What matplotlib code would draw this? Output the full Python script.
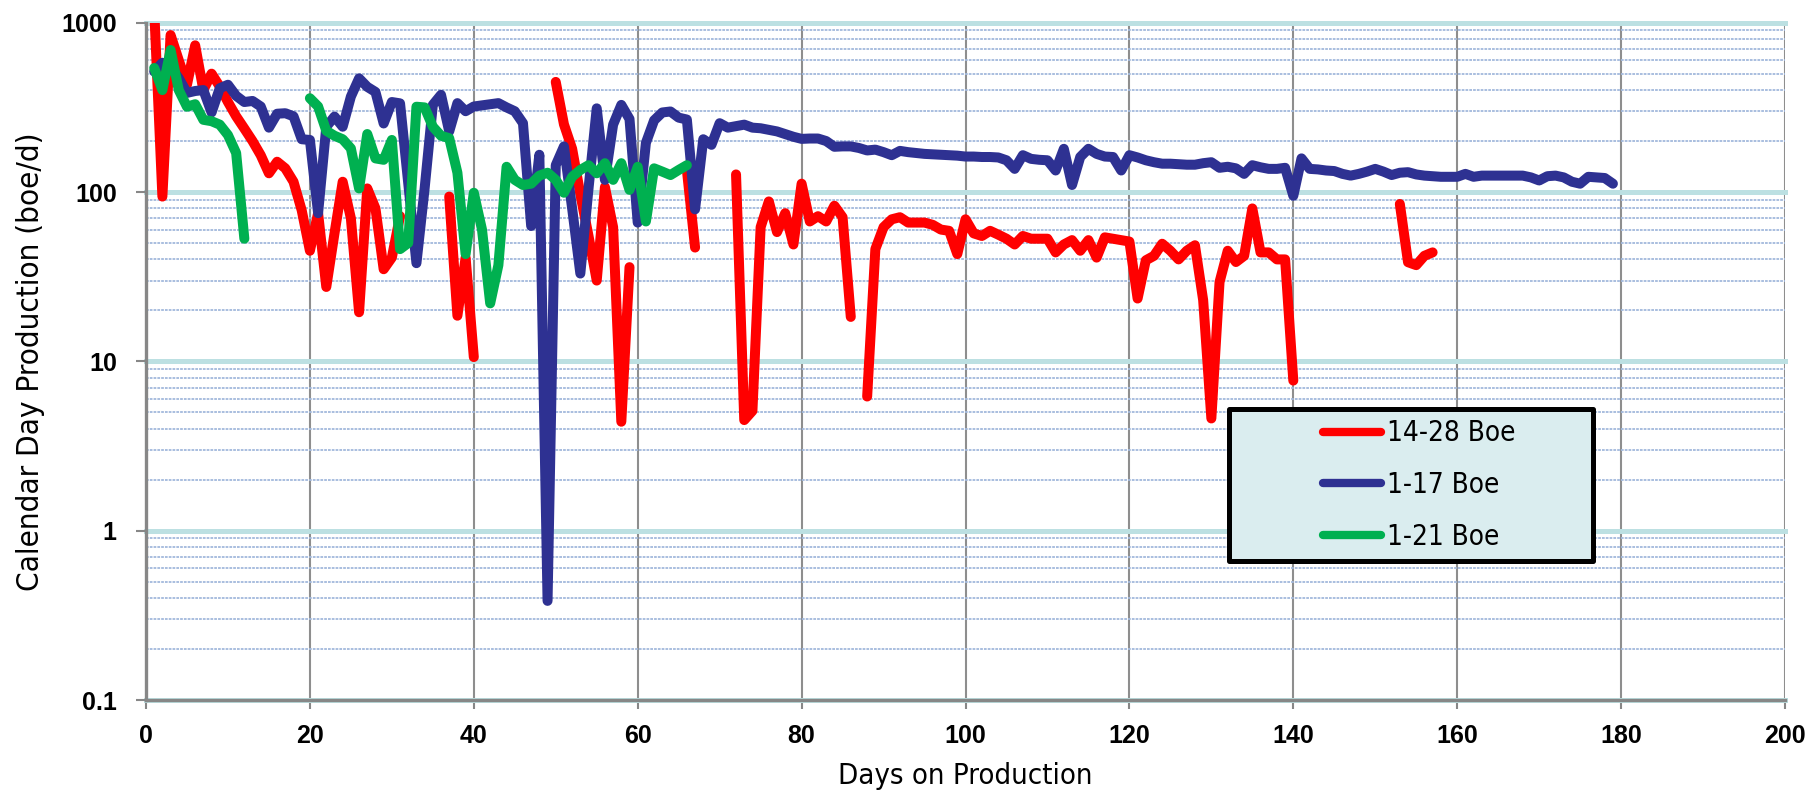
import numpy as np
import matplotlib
matplotlib.use("Agg")
import matplotlib.pyplot as plt
from matplotlib.patches import Rectangle
from matplotlib.ticker import FixedLocator, FixedFormatter, NullFormatter
from matplotlib import font_manager as fm

nan = np.nan

series_names = ["14-28 Boe", "1-17 Boe", "1-21 Boe"]
series_colors = ["#FF0000", "#2E3192", "#00B050"]

red_days = list(range(1, 158))
red_values = [
    1200, 94, 845, 600, 430, 735, 400, 500, 420, 340,
    280, 237, 200, 165, 129, 151, 138, 115, 78, 45,
    75, 27.5, 57, 115, 70, 19.5, 105, 80, 35, 41,
    72, nan, nan, nan, nan, nan, 94, 18.6, 41, 10.6,
    nan, nan, nan, nan, nan, nan, nan, nan, nan, 447,
    251, 180, 97, 55, 30, 107, 62, 4.4, 36, nan,
    nan, nan, nan, nan, nan, 135, 47, nan, nan, nan,
    nan, 127, 4.5, 5.1, 62, 88, 58, 75, 49, 112,
    67, 72, 67, 83, 71, 18.3, nan, 6.2, 46, 62,
    69, 71, 66, 66, 66, 64, 60, 59, 43, 69,
    57, 55, 59, 56, 53, 49, 55, 53, 53, 53,
    44, 49, 52, 45, 52, 41, 54, 53, 52, 51,
    23.5, 39.5, 42, 49.5, 45, 40, 45, 48.5, 23, 4.6,
    29.4, 45, 38.6, 42, 80, 44, 44, 40, 40, 7.7,
    nan, nan, nan, nan, nan, nan, nan, nan, nan, nan,
    nan, nan, 85, 38.5, 37, 42, 44,
]

blue_days = list(range(1, 180))
blue_values = [
    515, 580, 550, 470, 385, 395, 400, 295, 410, 430,
    370, 340, 345, 320, 240, 290, 292, 280, 205, 203,
    75, 243, 279, 243, 366, 469, 418, 390, 254, 340,
    334, 112, 38, 105, 327, 375, 228, 335, 300, 320,
    325, 330, 335, 316, 300, 255, 63, 166, 0.385, 144,
    186, 80, 33, 105, 312, 118, 250, 327, 270, 66,
    195, 265, 295, 299, 275, 268, 79, 205, 190, 255,
    240, 245, 250, 240, 238, 233, 228, 220, 212, 206,
    207, 207, 200, 185, 186, 186, 182, 176, 178, 172,
    165, 175, 172, 170, 168, 167, 166, 165, 164, 162,
    162, 161, 161, 160, 154, 137, 165, 157, 155, 154,
    134, 180, 110, 161, 180, 168, 162, 161, 134, 165,
    160, 154, 150, 147, 147, 146, 145, 145, 148, 150,
    139, 141, 138, 128, 144, 140, 137, 137, 139, 95,
    158, 137, 136, 134, 133, 128, 125, 128, 132, 137,
    132, 126, 130, 131, 127, 125, 124, 123, 123, 123,
    128, 123, 125, 125, 125, 125, 125, 125, 122, 117,
    124, 125, 122, 115, 112, 123, 122, 121, 112,
]

green_days = list(range(1, 67))
green_values = [
    540, 400, 690, 400, 319, 330, 267, 262, 250, 217,
    170, 53, nan, nan, nan, nan, nan, nan, nan, 358,
    320, 230, 215, 205, 181, 105, 220, 158, 155, 203,
    46, 50, 319, 316, 243, 215, 208, 130, 43, 99,
    60, 22, 37, 141, 118, 110, 112, 125, 130, 118,
    99, 123, 135, 144, 129, 148, 118, 148, 103, 141,
    67, 138, 132, 126, 135, 144,
]

x_ticks = [0, 20, 40, 60, 80, 100, 120, 140, 160, 180, 200]
y_ticks = [0.1, 1, 10, 100, 1000]
y_tick_labels = ["0.1", "1", "10", "100", "1000"]

NARROW = fm.FontProperties(family=["DejaVu Sans"], stretch="condensed")
BOLD = ["Liberation Sans", "DejaVu Sans"]

W, H = 1819, 796
fig = plt.figure(figsize=(W / 100, H / 100), dpi=100)
L, R, T, B = 146, 1785, 22.7, 700
ax = fig.add_axes([L / W, 1 - B / H, (R - L) / W, (B - T) / H])

ax.set_yscale("log")
ax.set_xlim(0, 200)
ax.set_ylim(0.1, 1000)

# grid
ax.set_axisbelow(True)
minor_locs = [m * 10.0 ** e for e in range(-1, 3) for m in range(2, 10)]
ax.yaxis.set_major_locator(FixedLocator(y_ticks))
ax.yaxis.set_major_formatter(FixedFormatter(y_tick_labels))
ax.yaxis.set_minor_locator(FixedLocator(minor_locs))
ax.yaxis.set_minor_formatter(NullFormatter())
ax.xaxis.set_major_locator(FixedLocator(x_ticks))

ax.grid(True, which="minor", axis="y", color="#A3B9DC", lw=1.3,
        linestyle=(0, (1.5, 0.6)))
ax.grid(True, which="major", axis="y", color="#BCE0E2", lw=3.6)
ax.grid(True, which="major", axis="x", color="#8E8E8E", lw=1.5)
for gl in ax.yaxis.get_gridlines():
    gl.set_clip_on(False)

for s in ["top", "right"]:
    ax.spines[s].set_visible(False)
for s in ["left", "bottom"]:
    ax.spines[s].set_color("#878787")
    ax.spines[s].set_linewidth(2.4)

ax.tick_params(axis="y", which="major", direction="out", length=7, width=1.5,
               color="#878787", pad=14)
ax.tick_params(axis="y", which="minor", length=0)
ax.tick_params(axis="x", which="major", direction="out", length=6.5, width=1.5,
               color="#878787", pad=11)
for lab in ax.get_xticklabels() + ax.get_yticklabels():
    lab.set_fontfamily(BOLD)
    lab.set_fontweight("bold")
    lab.set_fontsize(18)

lw = 7.2
kw = dict(lw=lw, solid_capstyle="round", solid_joinstyle="round")
ax.plot(red_days, red_values, color=series_colors[0], label=series_names[0], zorder=3, **kw)
ax.plot(blue_days, blue_values, color=series_colors[1], label=series_names[1], zorder=4, **kw)
ax.plot(green_days, green_values, color=series_colors[2], label=series_names[2], zorder=5, **kw)

xl = NARROW.copy(); xl.set_size(21)
yl = NARROW.copy(); yl.set_size(22.5)
ax.set_xlabel("Days on Production", fontproperties=xl, labelpad=10)
ax.set_ylabel("Calendar Day Production (boe/d)", fontproperties=yl, labelpad=12)

# legend box
bx0 = (1226 + 2.5 - L) / (R - L)
bx1 = (1595 - 2.5 - L) / (R - L)
by1 = 1 - (406.7 + 2.5 - T) / (B - T)
by0 = 1 - (563 - 2.5 - T) / (B - T)
rect = Rectangle((bx0, by0), bx1 - bx0, by1 - by0, transform=ax.transAxes,
                 facecolor="#DAEDEF", edgecolor="black", lw=3.6, zorder=8,
                 joinstyle="round")
ax.add_patch(rect)
lp = NARROW.copy(); lp.set_size(20)
leg = ax.legend(loc="center left",
                bbox_to_anchor=((1323 - L) / (R - L), 1 - (485 - T) / (B - T)),
                frameon=False, prop=lp,
                handlelength=2.1, handletextpad=0.2, labelspacing=0.85,
                borderpad=0, borderaxespad=0)
leg.set_zorder(9)
for h in leg.get_lines():
    h.set_linewidth(6)
    h.set_solid_capstyle("round")

fig.savefig("out.png", dpi=100)
